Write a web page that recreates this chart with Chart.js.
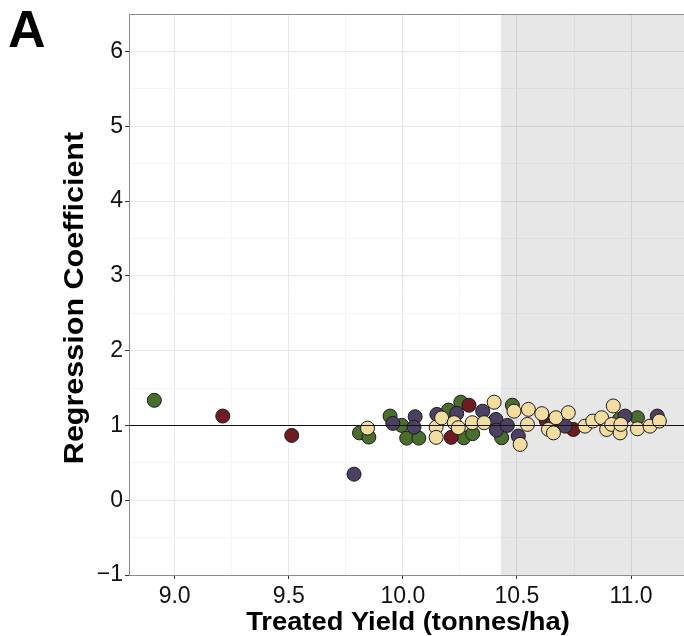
<!DOCTYPE html>
<html>
<head>
<meta charset="utf-8">
<script src="https://cdn.jsdelivr.net/npm/chart.js@4.4.1/dist/chart.umd.min.js"></script>
<style>
  html, body { margin: 0; padding: 0; background: #fff; overflow: hidden; }
  canvas { display: block; }
</style>
</head>
<body>
<canvas id="chart" width="684" height="636"></canvas>
<script>
// --- data ---
const greenX = [8.911, 9.810, 9.851, 9.944, 9.995, 10.017, 10.070, 10.200, 10.254, 10.267, 10.306, 10.433, 10.480, 10.949, 11.028];
const greenY = [1.335, 0.900, 0.844, 1.125, 1.000, 0.830, 0.830, 1.205, 1.310, 0.835, 0.890, 0.835, 1.270, 1.080, 1.103];

const redX = [9.211, 9.513, 10.212, 10.290, 10.403, 10.628, 10.747];
const redY = [1.125, 0.866, 0.840, 1.270, 1.058, 1.067, 0.946];

const purpleX = [9.786, 9.956, 10.054, 10.049, 10.149, 10.236, 10.350, 10.408, 10.410, 10.458, 10.506, 10.657, 10.711, 10.974, 11.115];
const purpleY = [0.348, 1.027, 1.116, 0.977, 1.147, 1.160, 1.190, 1.080, 0.937, 1.000, 0.857, 1.013, 0.990, 1.125, 1.125];

const beigeX = [9.845, 10.146, 10.146, 10.170, 10.225, 10.243, 10.304, 10.356, 10.400, 10.487, 10.514, 10.546, 10.550, 10.609, 10.638,
                10.660, 10.671, 10.725, 10.798, 10.832, 10.871, 10.893, 10.922, 10.915, 10.952, 10.955, 11.028, 11.083, 11.124];
const beigeY = [0.964, 0.977, 0.840, 1.100, 1.036, 0.970, 1.036, 1.036, 1.310, 1.190, 0.746, 1.013, 1.214, 1.157, 0.946,
                0.900, 1.103, 1.170, 0.990, 1.058, 1.103, 0.946, 1.260, 1.013, 0.900, 1.013, 0.955, 0.990, 1.058];

const xTicks = [9.0, 9.5, 10.0, 10.5, 11.0];
const xMinor = [9.25, 9.75, 10.25, 10.75];
const yTicks = [-1, 0, 1, 2, 3, 4, 5, 6];
const yMinor = [-0.5, 0.5, 1.5, 2.5, 3.5, 4.5, 5.5, 6.5];

const X_MIN = 8.8, X_MAX = 11.232;
const Y_MIN = -1, Y_MAX = 6.5;
const SHADE_FROM = 10.43;   // grey band on the right
const REF_LINE = 1;

const FONT = "'Liberation Sans', Arial, Helvetica, sans-serif";

const toPoints = (xs, ys) => xs.map((x, i) => ({ x: x, y: ys[i] }));

const dot = (label, xs, ys, color, order) => ({
    label: label,
    data: toPoints(xs, ys),
    backgroundColor: color,
    borderColor: '#1a1a1a',
    borderWidth: 1,
    pointRadius: 7,
    pointHoverRadius: 7,
    order: order
});

// ggplot-like major/minor grid
const gridFor = (major) => ({
    color: (c) => major.includes(c.tick.value) ? '#e8e8e8' : '#f4f4f4',
    tickColor: (c) => major.includes(c.tick.value) ? '#333333' : 'rgba(0,0,0,0)',
    tickLength: 4,
    lineWidth: 1
});

const overlay = {
    id: 'overlay',
    beforeDatasetsDraw(chart) {
        const { ctx, chartArea: a, scales: { x } } = chart;
        const x0 = x.getPixelForValue(SHADE_FROM);
        ctx.save();
        ctx.fillStyle = 'rgba(0,0,0,0.095)';
        ctx.fillRect(x0, a.top, a.right - x0, a.bottom - a.top);
        ctx.restore();
    },
    afterDatasetsDraw(chart) {
        const { ctx, chartArea: a, scales: { y } } = chart;
        const yy = Math.round(y.getPixelForValue(REF_LINE)) + 0.5;
        ctx.save();
        ctx.strokeStyle = '#111';
        ctx.lineWidth = 1.2;
        ctx.beginPath();
        ctx.moveTo(a.left, yy);
        ctx.lineTo(a.right, yy);
        ctx.stroke();
        ctx.restore();
    },
    afterDraw(chart) {
        const { ctx, chartArea: a } = chart;
        ctx.save();
        // top border of the panel
        ctx.strokeStyle = '#8c8c8c';
        ctx.lineWidth = 1;
        ctx.beginPath();
        ctx.moveTo(a.left, Math.round(a.top) + 0.5);
        ctx.lineTo(a.right, Math.round(a.top) + 0.5);
        ctx.stroke();

        ctx.fillStyle = '#000';
        // panel letter
        ctx.font = `bold 52px ${FONT}`;
        ctx.textAlign = 'left';
        ctx.textBaseline = 'alphabetic';
        ctx.fillText('A', 8, 47);

        // x title
        ctx.save();
        ctx.translate(408, 630);
        ctx.scale(1.05, 1);
        ctx.font = `bold 26px ${FONT}`;
        ctx.textAlign = 'center';
        ctx.fillText('Treated Yield (tonnes/ha)', 0, 0);
        ctx.restore();

        // y title
        ctx.save();
        ctx.translate(83, 298);
        ctx.rotate(-Math.PI / 2);
        ctx.scale(1.13, 1);
        ctx.font = `bold 27px ${FONT}`;
        ctx.textAlign = 'center';
        ctx.fillText('Regression Coefficient', 0, 0);
        ctx.restore();

        ctx.restore();
    }
};

new Chart(document.getElementById('chart'), {
    type: 'scatter',
    data: {
        datasets: [
            dot('beige', beigeX, beigeY, '#f2dca0', 1),
            dot('purple', purpleX, purpleY, '#4d4163', 2),
            dot('red', redX, redY, '#6e1c22', 3),
            dot('green', greenX, greenY, '#4a6e2d', 4)
        ]
    },
    options: {
        responsive: false,
        animation: false,
        devicePixelRatio: 1,
        layout: { autoPadding: false, padding: { top: 14, left: 0, right: 0, bottom: 0 } },
        plugins: {
            legend: { display: false },
            tooltip: { enabled: false }
        },
        scales: {
            x: {
                type: 'linear',
                min: X_MIN,
                max: X_MAX,
                afterBuildTicks: (s) => {
                    s.ticks = [...xTicks, ...xMinor].sort((a, b) => a - b).map(v => ({ value: v }));
                },
                afterFit: (s) => {
                    s.height = 61;
                    s.paddingLeft = 0;
                    s.paddingRight = 0;
                },
                ticks: {
                    autoSkip: false,
                    maxRotation: 0,
                    padding: 4,
                    color: '#111',
                    font: { family: FONT, size: 23 },
                    callback: (v) => xTicks.includes(v) ? v.toFixed(1) : ''
                },
                grid: gridFor(xTicks),
                border: { display: true, color: '#8c8c8c', width: 1 }
            },
            y: {
                type: 'linear',
                min: Y_MIN,
                max: Y_MAX,
                afterBuildTicks: (s) => {
                    s.ticks = [...yTicks, ...yMinor].sort((a, b) => a - b).map(v => ({ value: v }));
                },
                afterFit: (s) => {
                    s.width = 129;
                    s.paddingTop = 0;
                    s.paddingBottom = 0;
                },
                ticks: {
                    autoSkip: false,
                    padding: 2,
                    color: '#111',
                    font: { family: FONT, size: 23 },
                    callback: (v) => yTicks.includes(v) ? (v < 0 ? '\u2212' + Math.abs(v) : String(v)) : ''
                },
                grid: gridFor(yTicks),
                border: { display: true, color: '#8c8c8c', width: 1 }
            }
        }
    },
    plugins: [overlay]
});
</script>
</body>
</html>
